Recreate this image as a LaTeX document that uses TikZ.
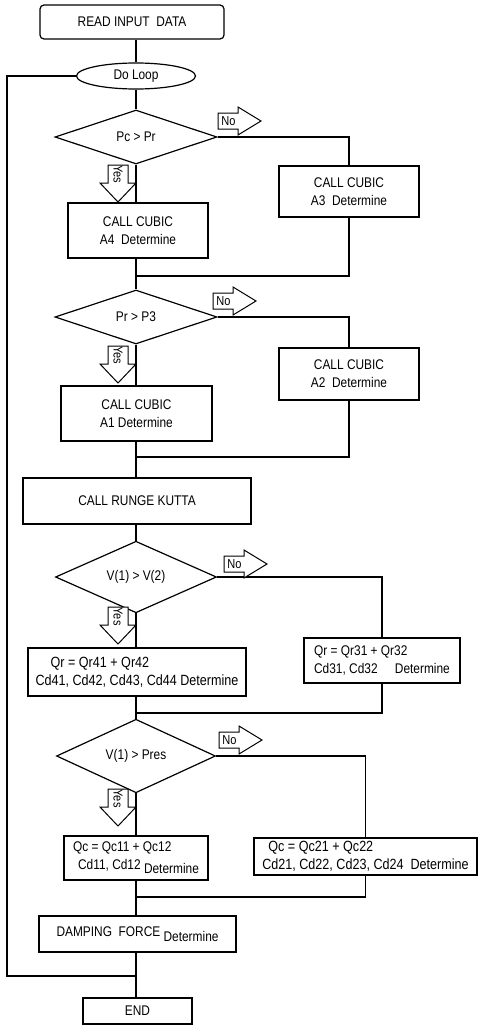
\documentclass[tikz,border=0pt]{standalone}
\usepackage{fontspec}
\setmainfont{Liberation Sans}[FakeStretch=0.85]
\usetikzlibrary{shapes.geometric}
\tikzset{
  ln/.style={line width=1.2pt},
  box/.style={draw, ln, inner sep=0pt, align=center, font=\fontsize{14}{18}\selectfont},
  lbox/.style={box, align=left},
  wbox/.style={lbox, font=\fontsize{14.8}{18}\selectfont},
  dia/.style={draw, ln, diamond, inner sep=0pt, font=\fontsize{14}{15}\selectfont},
  yesarrow/.pic={
    \draw[line width=1pt, fill=white] (-10,0) -- (10,0) -- (10,18) -- (18,18) -- (0,37) -- (-18,18) -- (-10,18) -- cycle;
    \node[rotate=-90, inner sep=0pt, font=\fontsize{13}{12}\selectfont] at (0,9.5) {Yes};
  },
  noarrow/.pic={
    \draw[line width=1pt, fill=white] (0,-8) -- (20,-8) -- (20,-14) -- (43,0) -- (20,14) -- (20,8) -- (0,8) -- cycle;
    \node[inner sep=0pt, font=\fontsize{13}{12}\selectfont] at (10.5,0.5) {No};
  }
}
\begin{document}
\begin{tikzpicture}[x=1pt, y=-1pt]
\useasboundingbox (0,0) rectangle (478,1025);

\node[box, rounded corners=4pt, minimum width=184pt, minimum height=34pt] (read) at (132,22) {READ INPUT\ \ DATA};
\node[box, ellipse, minimum width=119pt, minimum height=26pt] (loop) at (136,76) {Do Loop};

\node[dia, minimum width=162pt, minimum height=54pt] (d1) at (136,137) {Pc > Pr};
\node[box, minimum width=140pt, minimum height=51pt] (a3) at (349,191.5) {CALL CUBIC\\A3\ \ Determine};
\node[box, minimum width=140pt, minimum height=55pt] (a4) at (138,230.5) {CALL CUBIC\\A4\ \ Determine};
\coordinate (m1) at (136,276);

\node[dia, minimum width=162pt, minimum height=54pt] (d2) at (136,317) {Pr > P3};
\node[box, minimum width=140pt, minimum height=52pt] (a2) at (349,374) {CALL CUBIC\\A2\ \ Determine};
\node[box, minimum width=151pt, minimum height=55pt] (a1) at (136.5,413.5) {CALL CUBIC\\A1 Determine};
\coordinate (m2) at (136,457);

\node[box, minimum width=228pt, minimum height=46pt] (rk) at (137,501) {CALL RUNGE KUTTA};

\node[dia, minimum width=161pt, minimum height=55pt] (d3) at (136,577) {V(1) > V(2)};
\node[lbox, minimum width=156pt, minimum height=45pt] (qr3) at (382,660.5) {Qr = Qr31 + Qr32\\Cd31, Cd32\hspace{14pt} Determine};
\node[wbox, minimum width=218pt, minimum height=48pt] (qr4) at (137,672) {\hspace*{15pt}Qr = Qr41 + Qr42\\Cd41, Cd42, Cd43, Cd44 Determine};
\coordinate (m3) at (136,713);

\node[dia, minimum width=159pt, minimum height=56pt] (d4) at (136,756) {V(1) > Pres};
\node[wbox, minimum width=223pt, minimum height=37pt] (qc2) at (365.5,856.5) {\hspace*{6pt}Qc = Qc21 + Qc22\\Cd21, Cd22, Cd23, Cd24\ \ Determine};
\node[lbox, minimum width=144pt, minimum height=44pt] (qc1) at (136,858) {Qc = Qc11 + Qc12\\\hspace*{5pt}Cd11, Cd12 \raisebox{-4pt}{Determine}};
\coordinate (m4) at (136,897);

\node[box, minimum width=197pt, minimum height=36pt] (damp) at (137.5,934) {DAMPING\ \ FORCE \raisebox{-5pt}{Determine}};
\coordinate (j) at (136,976);
\node[box, minimum width=109pt, minimum height=26pt] (end) at (137.5,1011) {END};

\coordinate (lt) at (7,76);
\coordinate (lb) at (7,976);

\begin{scope}[ln]
\draw (loop.north |- read.south) -- (loop.north);
\draw (loop.south) -- (d1.north);
\draw (d1.south) -- (d1.south |- a4.north);
\draw (d1.east) -| (a3.north);
\draw (a3.south) |- (m1);
\draw (m1 |- a4.south) -- (m1) -- (d2.north);
\draw (d2.south) -- (d2.south |- a1.north);
\draw (d2.east) -| (a2.north);
\draw (a2.south) |- (m2);
\draw (m2 |- a1.south) -- (m2) -- (m2 |- rk.north);
\draw (m2 |- rk.south) -- (d3.north);
\draw (d3.south) -- (d3.south |- qr4.north);
\draw (d3.east) -| (qr3.north);
\draw (qr3.south) |- (m3);
\draw (m3 |- qr4.south) -- (m3) -- (d4.north);
\draw (d4.south) -- (d4.south |- qc1.north);
\draw (d4.east) -| (qc2.north);
\draw (qc2.south) |- (m4);
\draw (m4 |- qc1.south) -- (m4) -- (m4 |- damp.north);
\draw (m4 |- damp.south) -- (j) -- (j |- end.north);
\draw (loop.west) -- (lt) -- (lb) -- (j);
\end{scope}

\pic at (118,165) {yesarrow};
\pic at (118,346) {yesarrow};
\pic at (118,607) {yesarrow};
\pic at (118,789) {yesarrow};
\pic at (218,121) {noarrow};
\pic at (213,301) {noarrow};
\pic at (224,564) {noarrow};
\pic at (219,740) {noarrow};
\end{tikzpicture}
\end{document}
